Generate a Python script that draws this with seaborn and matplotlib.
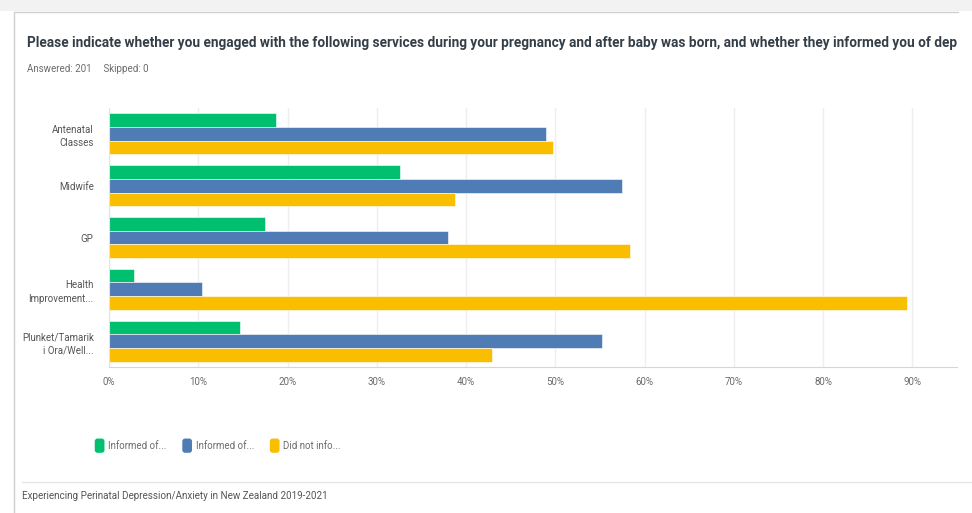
import matplotlib.pyplot as plt
import matplotlib.patches as mpatches
import matplotlib.lines as mlines
from matplotlib.legend_handler import HandlerPatch
import pandas as pd
import seaborn as sns

categories = [
    "Antenatal\nClasses",
    "Midwife",
    "GP",
    "Health\nImprovement...",
    "Plunket/Tamarik\ni Ora/Well...",
]
series = ["informed_a", "informed_b", "not_informed"]
legend_labels = ["Informed of...", "Informed of...", "Did not info..."]
informed_a = [18.7, 32.6, 17.5, 2.8, 14.7]
informed_b = [49.0, 57.5, 38.0, 10.4, 55.2]
not_informed = [49.7, 38.8, 58.4, 89.4, 42.9]
xticks = [0, 10, 20, 30, 40, 50, 60, 70, 80, 90]

colors = ["#00bf6f", "#507cb6", "#f9be00"]

df = pd.DataFrame({
    "service": categories * 3,
    "series": [s for s in series for _ in categories],
    "percent": informed_a + informed_b + not_informed,
})

sns.set_style("white")
plt.rcParams["font.family"] = ["Roboto", "DejaVu Sans"]

fig = plt.figure(figsize=(9.72, 5.13), dpi=100)
fig.patch.set_facecolor("white")

# page chrome: grey top band, card border, footer separator
fig.add_artist(mpatches.Rectangle((0, 1 - 11 / 513), 1, 11 / 513,
                                  transform=fig.transFigure,
                                  facecolor="#f2f2f2", edgecolor="none"))
fig.add_artist(mlines.Line2D([14 / 972, 958 / 972], [1 - 12 / 513] * 2,
                             transform=fig.transFigure, color="#cfcfcf", lw=1))
fig.add_artist(mlines.Line2D([14 / 972] * 2, [0, 1 - 12 / 513],
                             transform=fig.transFigure, color="#cfcfcf", lw=1))
fig.add_artist(mlines.Line2D([22 / 972, 1], [1 - 482 / 513] * 2,
                             transform=fig.transFigure, color="#e6e6e6", lw=1))

ax = fig.add_axes([109 / 972, 1 - 367 / 513, (957 - 109) / 972, (367 - 108) / 513])
sns.barplot(
    data=df, y="service", x="percent", hue="series",
    hue_order=series, palette=colors, orient="h",
    width=0.79, saturation=1, ax=ax, legend=False,
)
for p in ax.patches:
    p.set_edgecolor("white")
    p.set_linewidth(0.4)

ax.set_xlim(0, 95)
ax.set_xticks(xticks)
ax.set_xticklabels([f"{t}%" for t in xticks], color="#6b6b6b", fontsize=7)
ax.tick_params(axis="y", labelsize=7, labelcolor="#555555", length=0, pad=11)
ax.tick_params(axis="x", length=0, pad=7)
for lbl in ax.get_yticklabels():
    lbl.set_horizontalalignment("right")
    lbl.set_multialignment("right")
    lbl.set_linespacing(1.45)
ax.set_xlabel("")
ax.set_ylabel("")
ax.grid(axis="x", color="#eeeeee", lw=1)
ax.set_axisbelow(True)
for side in ["top", "right"]:
    ax.spines[side].set_visible(False)
ax.spines["left"].set_color("#e3e3e3")
ax.spines["bottom"].set_color("#d6d6d6")

fig.text(27 / 972, 1 - 43 / 513,
         "Please indicate whether you engaged with the following services during your "
         "pregnancy and after baby was born, and whether they informed you of dep",
         fontsize=9.8, fontweight="bold", color="#333e48", va="center", ha="left")
fig.text(27 / 972, 1 - 69 / 513, "Answered: 201     Skipped: 0",
         fontsize=7, color="#6b6b6b", va="center", ha="left")
fig.text(22 / 972, 1 - 496 / 513,
         "Experiencing Perinatal Depression/Anxiety in New Zealand 2019-2021",
         fontsize=7.1, color="#555555", va="center", ha="left")


def rounded_patch(legend, orig_handle, xdescent, ydescent, width, height, fontsize):
    return mpatches.FancyBboxPatch(
        (-xdescent, -ydescent - 2), width, height + 4,
        boxstyle="round,pad=0,rounding_size=2",
    )


handles = [mpatches.Patch(facecolor=c, edgecolor="none") for c in colors]
fig.legend(handles, legend_labels, loc="center left",
           bbox_to_anchor=(86 / 972, 1 - 446 / 513), ncol=3, frameon=False,
           fontsize=7, labelcolor="#6b6b6b", handlelength=1.0, handleheight=1.0,
           handletextpad=0.4, columnspacing=1.6,
           handler_map={mpatches.Patch: HandlerPatch(patch_func=rounded_patch)})

fig.savefig("out.png", dpi=100)
